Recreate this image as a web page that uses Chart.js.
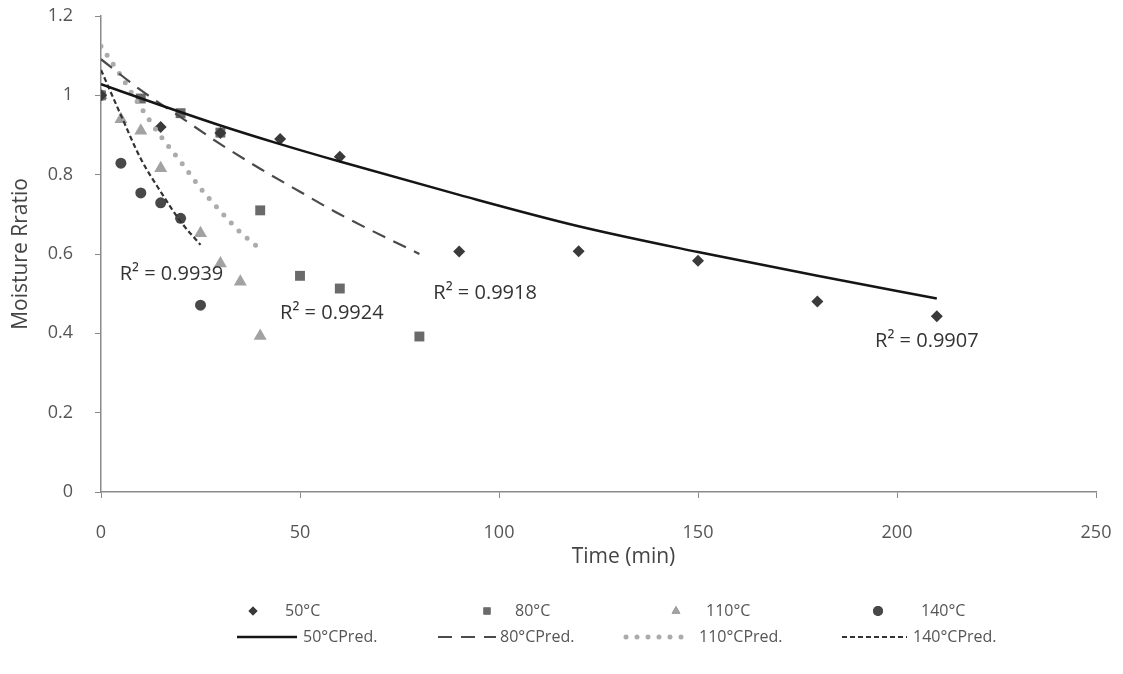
<!DOCTYPE html>
<html>
<head>
<meta charset="utf-8">
<script src="https://cdn.jsdelivr.net/npm/chart.js@4.4.1/dist/chart.umd.min.js"></script>
<style>
  body { margin: 0; background: #fff; }
  #wrap { width: 1123px; height: 674px; }
</style>
</head>
<body>
<div id="wrap"><canvas id="mrChart" width="1123" height="674"></canvas></div>
<script>
const t50 = [0, 15, 30, 45, 60, 90, 120, 150, 180, 210];
const mr50 = [1.0, 0.92, 0.905, 0.89, 0.845, 0.606, 0.607, 0.583, 0.48, 0.443];
const pred50 = [1.028, 0.975, 0.924, 0.877, 0.833, 0.749, 0.670, 0.605, 0.545, 0.488];

const t80 = [0, 10, 20, 30, 40, 50, 60, 80];
const mr80 = [1.0, 0.992, 0.955, 0.906, 0.71, 0.545, 0.513, 0.392];
const pred80 = [1.091, 1.013, 0.945, 0.877, 0.815, 0.757, 0.700, 0.600];

const t110 = [0, 5, 10, 15, 25, 30, 35, 40];
const mr110 = [1.0, 0.94, 0.911, 0.816, 0.652, 0.576, 0.530, 0.393];
const tPred110 = [0, 5, 10, 15, 20, 25, 30, 35, 40];
const pred110 = [1.124, 1.049, 0.970, 0.897, 0.833, 0.766, 0.708, 0.655, 0.612];

const t140 = [0, 5, 10, 15, 20, 25];
const mr140 = [1.0, 0.829, 0.754, 0.729, 0.690, 0.471];
const pred140 = [1.064, 0.950, 0.840, 0.757, 0.682, 0.623];

const xTicks = [0, 50, 100, 150, 200, 250];
const yTicks = [0, 0.2, 0.4, 0.6, 0.8, 1, 1.2];
const r2Labels = ['R\u00b2 = 0.9907', 'R\u00b2 = 0.9918', 'R\u00b2 = 0.9924', 'R\u00b2 = 0.9939'];

const FONT = "'Open Sans', 'DejaVu Sans', sans-serif";

function pts(xs, ys) {
    return xs.map((x, i) => ({ x: x, y: ys[i] }));
}

function markers(label, xs, ys, style, color, radius) {
    return {
        label: label,
        data: pts(xs, ys),
        showLine: false,
        pointStyle: style,
        pointRadius: radius,
        pointHoverRadius: radius,
        backgroundColor: color,
        borderColor: color,
        borderWidth: 0,
        order: 2
    };
}

function predLine(label, xs, ys, color, width, dash, cap) {
    return {
        label: label,
        data: pts(xs, ys),
        showLine: true,
        pointRadius: 0,
        borderColor: color,
        backgroundColor: color,
        borderWidth: width,
        borderDash: dash,
        borderCapStyle: cap || 'butt',
        cubicInterpolationMode: 'monotone',
        order: 1
    };
}

const datasets = [
    markers('50°C', t50, mr50, 'rectRot', '#3a3a3a', 6),
    markers('80°C', t80, mr80, 'rect', '#6a6a6a', 7),
    markers('110°C', t110, mr110, 'triangle', '#a2a2a2', 7.5),
    markers('140°C', t140, mr140, 'circle', '#484848', 5.5),
    predLine('50°CPred.', t50, pred50, '#151515', 2.5, []),
    predLine('80°CPred.', t80, pred80, '#4a4a4a', 2.2, [14, 9]),
    predLine('110°CPred.', tPred110, pred110, '#ababab', 5, [0, 11], 'round'),
    predLine('140°CPred.', t140, pred140, '#333333', 2.2, [5, 3])
];

// R² labels, anchored at data coordinates (left edge, middle)
const r2Places = [
    { x: 194.5, y: 0.38 },
    { x: 83.5, y: 0.50 },
    { x: 45, y: 0.45 },
    { x: 4.7, y: 0.55 }
];

// legend slots: marker centre / line span and text start, in canvas pixels
const legendSlots = [
    { sx: 253, tx: 285, y: 611 },
    { sx: 487, tx: 515, y: 611 },
    { sx: 676, tx: 706, y: 611 },
    { sx: 878, tx: 921, y: 611 },
    { x0: 237, x1: 297, tx: 303, y: 637 },
    { x0: 438, x1: 496, tx: 500, y: 637 },
    { x0: 626, x1: 692, tx: 699, y: 637 },
    { x0: 842, x1: 907, tx: 913, y: 637 }
];

const extrasPlugin = {
    id: 'extras',
    afterDraw(chart) {
        const ctx = chart.ctx;
        const xs = chart.scales.x, ys = chart.scales.y;
        ctx.save();
        // R² labels
        ctx.fillStyle = '#333';
        ctx.font = '20px ' + FONT;
        ctx.textBaseline = 'middle';
        ctx.textAlign = 'left';
        r2Labels.forEach((txt, i) => {
            ctx.fillText(txt, xs.getPixelForValue(r2Places[i].x), ys.getPixelForValue(r2Places[i].y));
        });
        // x axis title
        ctx.fillStyle = '#444';
        ctx.font = '21px ' + FONT;
        ctx.textAlign = 'center';
        ctx.fillText('Time (min)', (chart.chartArea.left + chart.chartArea.right) / 2 + 25, 557);
        // legend
        ctx.font = '16px ' + FONT;
        ctx.textAlign = 'left';
        chart.data.datasets.forEach((ds, i) => {
            const s = legendSlots[i];
            if (ds.showLine) {
                ctx.save();
                ctx.strokeStyle = ds.borderColor;
                ctx.lineWidth = ds.borderWidth;
                ctx.setLineDash(ds.borderDash);
                ctx.lineCap = ds.borderCapStyle;
                ctx.beginPath();
                ctx.moveTo(s.x0, s.y);
                ctx.lineTo(s.x1, s.y);
                ctx.stroke();
                ctx.restore();
            } else {
                const r = ds.pointStyle === 'triangle' ? 5 : (ds.pointStyle === 'rectRot' ? 4.5 : 5);
                Chart.helpers.drawPoint(ctx, {
                    pointStyle: ds.pointStyle, radius: r, borderWidth: 0,
                    backgroundColor: ds.backgroundColor, borderColor: ds.borderColor
                }, s.sx, s.y);
                ctx.fillStyle = ds.backgroundColor;
                ctx.fill();
            }
            ctx.fillStyle = '#555';
            ctx.fillText(ds.label, s.tx, s.y);
        });
        ctx.restore();
    }
};

// keep the tick padding from pushing the plot area inward
function noScalePadding(s) {
    s.paddingTop = 0;
    s.paddingBottom = 0;
    s.paddingLeft = 0;
    s.paddingRight = 0;
}

const ctx = document.getElementById('mrChart').getContext('2d');
new Chart(ctx, {
    type: 'scatter',
    data: { datasets: datasets },
    plugins: [extrasPlugin],
    options: {
        responsive: false,
        animation: false,
        layout: { autoPadding: false, padding: { top: 16, right: 27, bottom: 102, left: 0 } },
        plugins: {
            legend: { display: false },
            tooltip: { enabled: false }
        },
        scales: {
            x: {
                type: 'linear',
                min: 0,
                max: 250,
                afterFit: s => { s.height = 80; noScalePadding(s); },
                afterBuildTicks: s => { s.ticks = xTicks.map(v => ({ value: v })); },
                grid: { drawOnChartArea: false, drawTicks: true, tickLength: 6, color: '#8a8a8a' },
                border: { color: '#8a8a8a', width: 1.5 },
                ticks: { color: '#555', padding: 24, font: { family: FONT, size: 18 } }
            },
            y: {
                type: 'linear',
                min: 0,
                max: 1.2,
                afterFit: s => { s.width = 101; noScalePadding(s); },
                afterBuildTicks: s => { s.ticks = yTicks.map(v => ({ value: v })); },
                grid: { drawOnChartArea: false, drawTicks: true, tickLength: 6, color: '#8a8a8a' },
                border: { color: '#8a8a8a', width: 1.5 },
                ticks: { color: '#555', padding: 22, font: { family: FONT, size: 18 },
                    callback: v => String(Math.round(v * 10) / 10) },
                title: { display: true, text: 'Moisture Rratio', color: '#444',
                    font: { family: FONT, size: 21 }, padding: { top: 8, bottom: 0 } }
            }
        }
    }
});
</script>
</body>
</html>
